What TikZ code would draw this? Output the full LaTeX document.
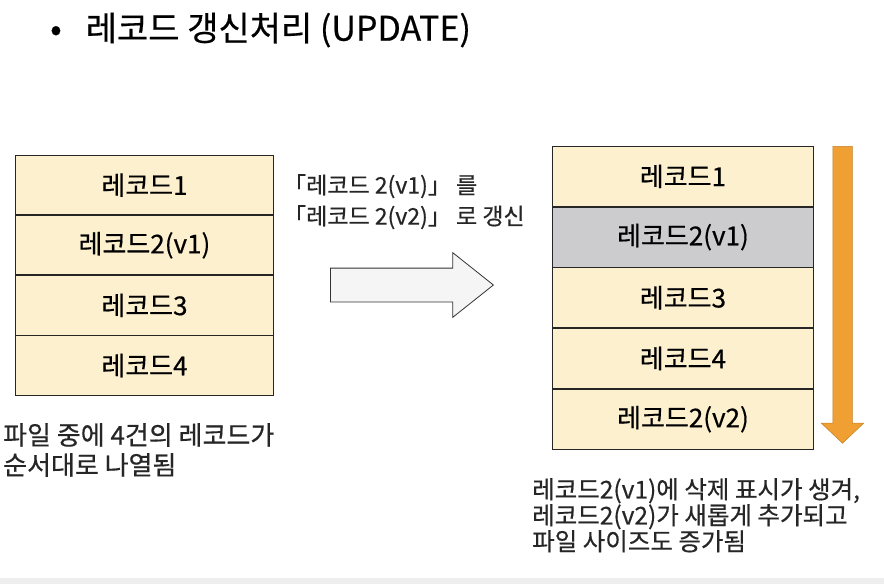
\documentclass[tikz,border=0pt]{standalone}
\usepackage{fontspec}
\setmainfont[FakeBold=0.5]{Noto Sans CJK KR}
\usetikzlibrary{positioning,shapes.arrows}
\definecolor{recfill}{RGB}{253,240,207}
\definecolor{delfill}{RGB}{204,204,207}
\definecolor{growfill}{RGB}{240,160,50}
\definecolor{stripgray}{RGB}{238,238,238}

\begin{document}
\begin{tikzpicture}[x=1pt, y=-1pt,
  cell/.style={draw=black!85, line width=0.9pt, fill=recfill, minimum width=258pt,
    minimum height=59.25pt, inner sep=0pt, font=\fontsize{26}{30}\selectfont},
  newcell/.style={cell, minimum width=261pt, minimum height=59.8pt},
  delcell/.style={newcell, fill=delfill},
  note/.style={align=left, inner sep=0pt, text=black!85},
]
\useasboundingbox (0,0) rectangle (884,584);
\fill[stripgray] (0,578) rectangle (884,584);
% title
\node[anchor=west, inner sep=0pt, font=\fontsize{34}{38}\selectfont] (title) at (50,30)
  {•\hspace{24pt}레코드 갱신처리 (UPDATE)};
% file before the update
\node[cell, anchor=north west] (old1) at (15,155) {레코드1};
\node[cell, below=0pt of old1] (old2) {레코드2(v1)};
\node[cell, below=0pt of old2] (old3) {레코드3};
\node[cell, below=0pt of old3] (old4) {레코드4};
\node[note, anchor=north west, font=\fontsize{26}{30}\selectfont] (oldtxt) at (3,423)
  {파일 중에 4건의 레코드가\\순서대로 나열됨};
% update arrow
\node[note, anchor=north west, font=\fontsize{23}{31}\selectfont] (updtxt) at (283,174)
  {「레코드 2(v1)」 를\\「레코드 2(v2)」 로 갱신};
\node[single arrow, anchor=tail, draw=black!80, line width=0.8pt, fill=gray!8, inner sep=16.5pt,
  minimum height=163pt, single arrow head extend=15.5pt,
  single arrow tip angle=77] (updarrow) at (330,285) {};
% file after the update
\node[newcell, anchor=north west] (new1) at (552,146) {레코드1};
\node[delcell, below=0pt of new1] (new2) {레코드2(v1)};
\node[newcell, below=0pt of new2] (new3) {레코드3};
\node[newcell, below=0pt of new3] (new4) {레코드4};
\node[newcell, below=0pt of new4] (new5) {레코드2(v2)};
\node[single arrow, anchor=tail, rotate=-90, draw=growfill!80!black, line width=0.5pt,
  fill=growfill, inner sep=9.5pt, minimum height=297pt,
  single arrow head extend=11.5pt, single arrow tip angle=93] (growarrow) at (842.5,146) {};
\node[note, anchor=north west, font=\fontsize{24.5}{26}\selectfont] (newtxt) at (532,478)
  {레코드2(v1)에 삭제 표시가 생겨,\\레코드2(v2)가 새롭게 추가되고\\파일 사이즈도 증가됨};
\end{tikzpicture}
\end{document}
